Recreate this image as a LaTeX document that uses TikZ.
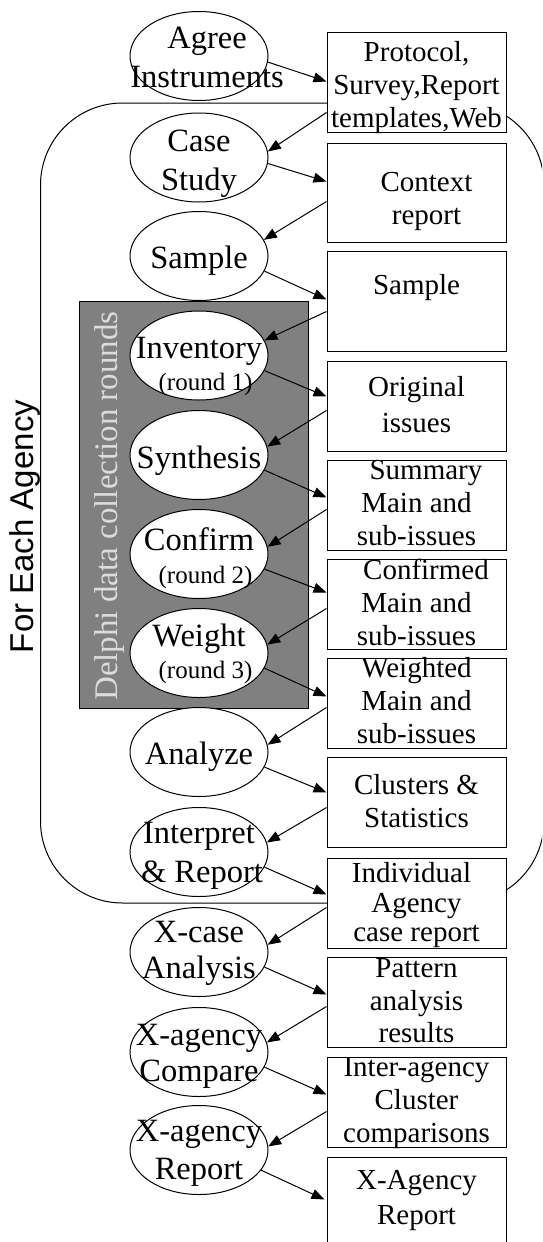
\documentclass[tikz,border=0pt]{standalone}
\usepackage{fontspec}
\setmainfont{Liberation Serif}
\newfontfamily\arialfont{Liberation Sans}
\usetikzlibrary{arrows.meta,shapes.geometric}
\definecolor{panelgray}{RGB}{128,128,128}
\definecolor{paletext}{RGB}{220,220,220}

\begin{document}
\begin{tikzpicture}[x=1pt,y=-1pt,
  stage/.style={ellipse, draw, fill=white, line width=1pt,
    minimum width=138pt, minimum height=89pt, inner sep=0pt},
  doc/.style={rectangle, draw, fill=white, line width=1pt,
    minimum width=179pt, inner sep=0pt},
  stagetext/.style={align=center, inner sep=0pt, anchor=north,
    font=\fontsize{32.5}{38}\selectfont},
  doctext/.style={align=center, inner sep=0pt, anchor=north,
    font=\fontsize{29}{33}\selectfont},
  flow/.style={line width=1pt, -{Triangle[length=13pt,width=10pt]}},
]
\useasboundingbox (0,0) rectangle (542,1242);
\fill[white] (0,0) rectangle (542,1242);
\clip (0,0) rectangle (542,1242);

% per-agency frame and Delphi panel
\draw[line width=1pt, rounded corners=82pt] (40.5,103) rectangle (544,903);
\draw[fill=panelgray, line width=0.8pt] (79,301) rectangle (308,708);

\node[rotate=90, anchor=base, inner sep=0pt,
  font=\arialfont\fontsize{33}{40}\selectfont] (agencylabel) at (33.5,526.5) {For Each Agency};
\node[rotate=90, anchor=base, inner sep=0pt, text=paletext,
  font=\fontsize{33}{40}\selectfont] (delphilabel) at (117,506) {Delphi data collection rounds};

% process steps
\node[stage] (e1)  at (199,56)   {};
\node[stage] (e2)  at (199,157.5){};
\node[stage] (e3)  at (199,256)  {};
\node[stage] (e4)  at (199,355.5){};
\node[stage] (e5)  at (199,455)  {};
\node[stage] (e6)  at (199,554)  {};
\node[stage] (e7)  at (199,653)  {};
\node[stage] (e8)  at (199,752)  {};
\node[stage] (e9)  at (199,852)  {};
\node[stage] (e10) at (199,952)  {};
\node[stage] (e11) at (199,1052) {};
\node[stage] (e12) at (199,1150) {};

% products
\node[doc, minimum height=100pt] (b1)  at (416.5,82)    {};
\node[doc, minimum height=99pt]  (b2)  at (416.5,192.5) {};
\node[doc, minimum height=100pt] (b3)  at (416.5,301)   {};
\node[doc, minimum height=90pt]  (b4)  at (416.5,406)   {};
\node[doc, minimum height=90pt]  (b5)  at (416.5,505)   {};
\node[doc, minimum height=90pt]  (b6)  at (416.5,604)   {};
\node[doc, minimum height=90pt]  (b7)  at (416.5,703)   {};
\node[doc, minimum height=90pt]  (b8)  at (416.5,802)   {};
\node[doc, minimum height=90pt]  (b9)  at (416.5,903)   {};
\node[doc, minimum height=90pt]  (b10) at (416.5,1002)  {};
\node[doc, minimum height=90pt]  (b11) at (416.5,1102)  {};
\node[doc, minimum height=100pt] (b12) at (416.5,1207)  {};

% step labels
\node[stagetext] (t1)  at ([xshift=8pt,yshift=34.6pt]e1.center) {\strut Agree\\[1pt]Instruments};
\node[stagetext] (t2)  at ([yshift=32.6pt]e2.center) {\strut Case\\[0.5pt]Study};
\node[stagetext] (t3)  at ([yshift=14.6pt]e3.center) {\strut Sample};
\node[stagetext] (t4)  at ([yshift=24pt]e4.center) {\strut Inventory\\[-6pt]\hspace*{13pt}{\fontsize{25}{30}\selectfont(round 1)}};
\node[stagetext] (t5)  at ([yshift=13.6pt]e5.center) {\strut Synthesis};
\node[stagetext] (t6)  at ([yshift=30.6pt]e6.center) {\strut Confirm\\[-5pt]\hspace*{13pt}{\fontsize{25}{30}\selectfont(round 2)}};
\node[stagetext] (t7)  at ([yshift=33.3pt]e7.center) {\strut Weight\\[-6.5pt]\hspace*{13pt}{\fontsize{25}{30}\selectfont(round 3)}};
\node[stagetext] (t8)  at ([yshift=14.1pt]e8.center) {\strut Analyze};
\node[stagetext] (t9)  at ([yshift=35.6pt]e9.center) {\strut Interpret\\[1pt]\hspace*{6pt}\& Report};
\node[stagetext] (t10) at ([yshift=36.6pt]e10.center) {\strut X-case\\[-1.5pt]Analysis};
\node[stagetext] (t11) at ([yshift=33.6pt]e11.center) {\strut X-agency\\[-1.3pt]Compare};
\node[stagetext] (t12) at ([yshift=35.6pt]e12.center) {\strut X-agency\\Report};

% product labels
\node[doctext] (d1)  at ([yshift=-6.9pt]b1.north)  {\strut Protocol,\\Survey,Report\\templates,Web};
\node[doctext] (d2)  at ([xshift=10pt,yshift=-25.9pt]b2.north) {\strut Context\\report};
\node[doctext] (d3)  at ([yshift=-20.9pt]b3.north) {\strut Sample};
\node[doctext] (d4)  at ([yshift=-12.9pt]b4.north) {\strut Original\\[3pt]issues};
\node[doctext] (d5)  at ([yshift=3.1pt]b5.north)   {\strut\hspace*{19pt}Summary\\Main and\\sub-issues};
\node[doctext] (d6)  at ([yshift=2.1pt]b6.north)   {\strut\hspace*{19pt}Confirmed\\Main and\\sub-issues};
\node[doctext] (d7)  at ([yshift=3.1pt]b7.north)   {\strut Weighted\\Main and\\sub-issues};
\node[doctext] (d8)  at ([yshift=-14.4pt]b8.north) {\strut Clusters \&\\Statistics};
\node[doctext] (d9)  at ([yshift=-1.9pt]b9.north)  {\strut Individual\hspace*{10pt}\\[-3.5pt]Agency\hspace*{8pt}\\[-3.5pt]case report};
\node[doctext] (d10) at ([yshift=2.1pt]b10.north)  {\strut Pattern\\[-0.5pt]analysis\\[-0.5pt]results};
\node[doctext] (d11) at ([yshift=3.1pt]b11.north)  {\strut Inter-agency\\Cluster\\comparisons};
\node[doctext] (d12) at ([yshift=-9.9pt]b12.north) {\strut X-Agency\\[2pt]Report};

% step -> product
\draw[flow] (e1.-5)  -- ([yshift=-50pt]b1.north west);
\draw[flow] (e2.-5)  -- ([yshift=-39pt]b2.north west);
\draw[flow] (e3.-13) -- ([yshift=-49pt]b3.north west);
\draw[flow] (e4.-13) -- ([yshift=-36pt]b4.north west);
\draw[flow] (e5.-13) -- ([yshift=-38pt]b5.north west);
\draw[flow] (e6.-13) -- ([yshift=-34pt]b6.north west);
\draw[flow] (e7.-13) -- ([yshift=-39pt]b7.north west);
\draw[flow] (e8.-13) -- ([yshift=-36pt]b8.north west);
\draw[flow] (e9.-13) -- ([yshift=-37pt]b9.north west);
\draw[flow] (e10.-13) -- ([yshift=-38pt]b10.north west);
\draw[flow] (e11.-13) -- ([yshift=-38pt]b11.north west);
\draw[flow] (e12.-18) -- ([xshift=-2pt,yshift=-43pt]b12.north west);

% product -> next step
\draw[flow] ([yshift=-81pt]b1.north west)  -- (e2.5);
\draw[flow] ([yshift=-59pt]b2.north west)  -- (e3.14);
\draw[flow] ([yshift=-61pt]b3.north west)  -- (e4.13);
\draw[flow] ([yshift=-50pt]b4.north west)  -- (e5.7);
\draw[flow] ([yshift=-50pt]b5.north west)  -- (e6.6);
\draw[flow] ([yshift=-50pt]b6.north west)  -- (e7.7);
\draw[flow] ([yshift=-50pt]b7.north west)  -- (e8.6);
\draw[flow] ([yshift=-51pt]b8.north west)  -- (e9.8);
\draw[flow] ([yshift=-50pt]b9.north west)  -- (e10.6);
\draw[flow] ([yshift=-50pt]b10.north west) -- (e11.8);
\draw[flow] ([yshift=-55pt]b11.north west) -- (e12.3);
\end{tikzpicture}
\end{document}
